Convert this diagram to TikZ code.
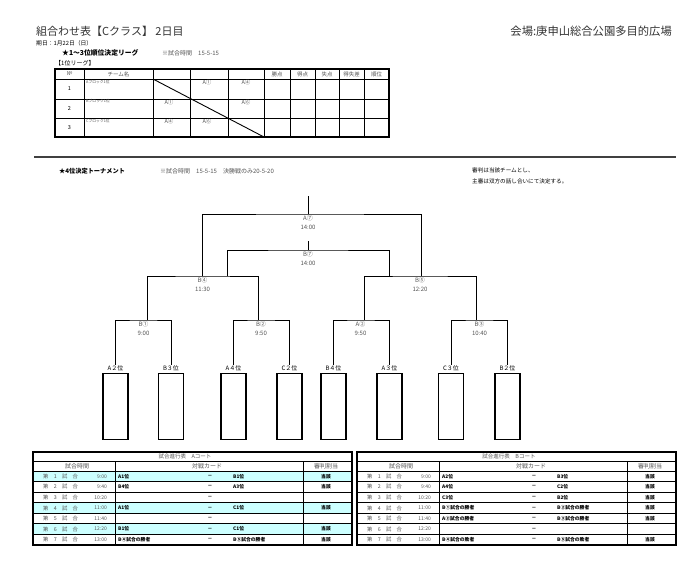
\documentclass[tikz,border=0pt]{standalone}
\usepackage{fontspec}
\setmainfont{Noto Sans CJK JP}
\usetikzlibrary{positioning}

\definecolor{rowcyan}{HTML}{CCFFFF}
\definecolor{txtgray}{HTML}{555555}

\tikzset{
  grid/.style={line width=0.75pt},
  frame/.style={line width=1.1pt},
  bracket/.style={line width=0.9pt},
  hd/.style={inner sep=0pt, text=txtgray, font=\fontsize{5.5}{7}\selectfont},
  tiny/.style={inner sep=0pt, text=txtgray, font=\fontsize{3.8}{5}\selectfont, anchor=west},
  match/.style={inner sep=0pt, text=txtgray, align=center, font=\fontsize{6}{9}\selectfont},
  leaf/.style={inner sep=0.5pt, anchor=north, font=\fontsize{6}{7}\selectfont},
  leafbox/.style={draw, line width=1.1pt, minimum width=25pt, minimum height=66pt, inner sep=0pt, anchor=north},
  card/.style={inner sep=0pt, font=\bfseries\fontsize{4.8}{6}\selectfont},
}

\begin{document}
\begin{tikzpicture}[x=1pt,y=-1pt]
\fill[white] (0,0) rectangle (700,571);
\useasboundingbox (0,0) rectangle (700,571);

% header
\node[anchor=west, inner sep=0pt, font=\fontsize{11}{13}\selectfont, text=black!80] (title) at (36,31) {組合わせ表【Cクラス】 2日目};
\node[anchor=east, inner sep=0pt, font=\fontsize{11.3}{13}\selectfont, text=black!80] (venue) at (672,31) {会場:庚申山総合公園多目的広場};
\node[anchor=west, inner sep=0pt, font=\fontsize{5.8}{7}\selectfont] (date) at (36,43) {期日：1月22日（日）};
\node[anchor=west, inner sep=0pt, font=\bfseries\fontsize{6.8}{8}\selectfont] (league) at (62,53) {★1～3位順位決定リーグ};
\node[anchor=west, inner sep=0pt, font=\fontsize{6}{8}\selectfont, text=txtgray] (ltime) at (162,53) {※試合時間　15-5-15};
\node[anchor=west, inner sep=0pt, font=\fontsize{6}{8}\selectfont] (lname) at (55,63) {【1位リーグ】};

% league table
\draw[frame] (55,69) rectangle (389,137);
\foreach \x in {84,153,190,228,264,290,315,339,364}
  \draw[grid] (\x,69) -- (\x,137);
\foreach \y in {79,99,118}
  \draw[grid] (55,\y) -- (389,\y);
\draw[line width=0.9pt] (153,79) -- (264,137);

\foreach \x/\t in {69.5/№,118.5/チーム名,277/勝点,302.5/得点,327/失点,351.5/得失差,376.5/順位}
  \node[hd] at (\x,74) {\t};

\foreach \n/\y/\b in {1/89/A,2/108.5/B,3/128/C} {
  \node[inner sep=0pt, font=\fontsize{5.5}{7}\selectfont] (no\n) at (69.5,\y) {\n};
  \node[tiny] (team\n) at (86,\y-7) {\b ブロック1位};
}
\foreach \x/\y/\t in {207/82/A①,246/82/A④,169/102/A①,246/102/A⑥,169/121/A④,207/121/A⑥}
  \node[hd] at (\x,\y) {\t};

% rule
\draw[line width=1.2pt, black!75] (34,157) -- (676,157);

% tournament header
\node[anchor=west, inner sep=0pt, font=\bfseries\fontsize{6.2}{8}\selectfont] (cup) at (59,171) {★4位決定トーナメント};
\node[anchor=west, inner sep=0pt, font=\fontsize{6}{8}\selectfont, text=txtgray] (ctime) at (160,171) {※試合時間　15-5-15　決勝戦のみ20-5-20};
\node[anchor=north west, inner sep=0pt, align=left, font=\fontsize{5.6}{10.5}\selectfont] (note) at (472,168) {審判は当該チームとし、\\主審は双方の話し合いにて決定する。};

% leaves
\foreach \n/\x/\t in {a2/115.5/A２位,b3/171/B３位,a4/233.5/A４位,c2/289.5/C２位,b4/333.5/B４位,a3/389.5/A３位,c3/451/C３位,b2/507.5/B２位} {
  \node[leaf] (\n) at (\x,364.5) {\t};
  \node[leafbox] (box\n) at (\x,373) {};
}

% first round
\coordinate (hB1) at (143.5,320);
\coordinate (hB2) at (261,320);
\coordinate (hA2) at (360.5,320);
\coordinate (hB3) at (479.5,320);
\node[match, below=1.5pt of hB1] (mB1) {B①\\9:00};
\node[match, below=1.5pt of hB2] (mB2) {B②\\9:50};
\node[match, below=1.5pt of hA2] (mA2) {A②\\9:50};
\node[match, below=1.5pt of hB3] (mB3) {B③\\10:40};
\draw[bracket] (a2.north) |- (hB1) -| (b3.north);
\draw[bracket] (a4.north) |- (hB2) -| (c2.north);
\draw[bracket] (b4.north) |- (hA2) -| (a3.north);
\draw[bracket] (c3.north) |- (hB3) -| (b2.north);

% second round
\coordinate (hB4) at (202.5,276);
\coordinate (hB5) at (420,276);
\coordinate (jB4l) at (147,320);
\coordinate (jB4r) at (258,320);
\coordinate (jB5l) at (364,320);
\coordinate (jB5r) at (476,320);
\node[match, below=1.5pt of hB4] (mB4) {B④\\11:30};
\node[match, below=1.5pt of hB5] (mB5) {B⑤\\12:20};
\draw[bracket] (jB4l) |- (hB4) -| (jB4r);
\draw[bracket] (jB5l) |- (hB5) -| (jB5r);

% final and 3rd place
\coordinate (hA7) at (308,214);
\coordinate (hB7) at (308,250);
\coordinate (tA7) at (308,196);
\coordinate (tB7) at (308,241);
\coordinate (jA7l) at (202,276);
\coordinate (jA7r) at (421,276);
\coordinate (jB7l) at (227,276);
\coordinate (jB7r) at (389,276);
\node[match, below=1.5pt of hA7] (mA7) {A⑦\\14:00};
\node[match, below=1.5pt of hB7] (mB7) {B⑦\\14:00};
\draw[bracket] (jA7l) |- (hA7) -| (jA7r);
\draw[bracket] (jB7l) |- (hB7) -| (jB7r);
\draw[bracket] (hA7) -- (tA7);
\draw[bracket] (hB7) -- (tB7);

% court tables
\foreach \k in {1,4,6}
  \fill[rowcyan] (33,{471+10.571*(\k-1)}) rectangle (352,{471+10.571*\k});
\foreach \tx/\c in {33/A,357/B} {
  \draw[frame] (\tx,452) rectangle (\tx+319,545);
  \draw[grid] (\tx,461) -- (\tx+319,461);
  \foreach \k in {0,...,6}
    \draw[grid] (\tx,{471+10.571*\k}) -- (\tx+319,{471+10.571*\k});
  \draw[grid] (\tx+82,461) -- (\tx+82,545);
  \draw[grid] (\tx+270,461) -- (\tx+270,545);
  \node[hd] at (\tx+152,456.5) {試合進行表　\c コート};
  \node[hd, font=\fontsize{6}{7}\selectfont] at (\tx+44,466) {試合時間};
  \node[hd, font=\fontsize{6}{7}\selectfont] at (\tx+174,466) {対戦カード};
  \node[hd, font=\fontsize{6}{7}\selectfont] at (\tx+293,466) {審判割当};
}
\foreach \tx/\tabrows in {33/{1/9:00/A1位/B1位/当該,2/9:40/B4位/A3位/当該,3/10:20///,4/11:00/A1位/C1位/当該,5/11:40///,6/12:20/B1位/C1位/当該,7/13:00/B④試合の勝者/B⑤試合の勝者/当該},
                          357/{1/9:00/A2位/B3位/当該,2/9:40/A4位/C2位/当該,3/10:20/C3位/B2位/当該,4/11:00/B①試合の勝者/B②試合の勝者/当該,5/11:40/A②試合の勝者/B③試合の勝者/当該,6/12:20///,7/13:00/B④試合の敗者/B⑤試合の敗者/当該}} {
  \foreach \k/\t/\p/\q/\j in \tabrows {
    \node[hd, anchor=west, font=\fontsize{5.3}{7}\selectfont] at (\tx+10,{471+10.571*(\k-0.5)}) {第　\k　試　合};
    \node[hd, anchor=east, font=\fontsize{5}{7}\selectfont] at (\tx+74,{471+10.571*(\k-0.5)}) {\t};
    \node[card, anchor=west] at (\tx+85,{471+10.571*(\k-0.5)}) {\p};
    \node[card] at (\tx+177,{471+10.571*(\k-0.5)}) {－};
    \node[card, anchor=west] at (\tx+200,{471+10.571*(\k-0.5)}) {\q};
    \node[card] at (\tx+293,{471+10.571*(\k-0.5)}) {\j};
  }
}
\end{tikzpicture}
\end{document}
